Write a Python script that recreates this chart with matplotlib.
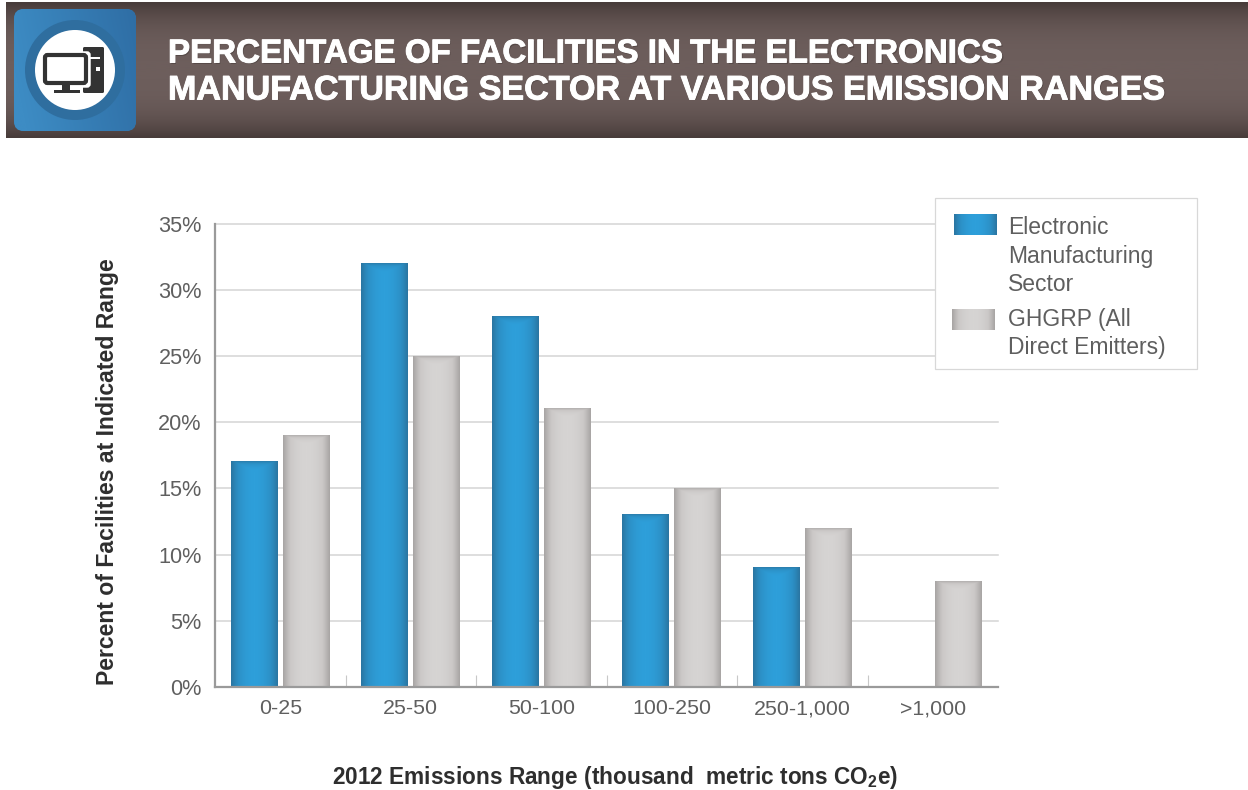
import numpy as np
import matplotlib
matplotlib.use("Agg")
import matplotlib.pyplot as plt
import matplotlib.patheffects as pe
from matplotlib.colors import LinearSegmentedColormap
from matplotlib.patches import Rectangle, Circle, FancyBboxPatch

plt.rcParams['font.family'] = ['Liberation Sans', 'DejaVu Sans']
plt.rcParams['mathtext.fontset'] = 'custom'
plt.rcParams['mathtext.bf'] = 'Liberation Sans:bold'

categories = ["0-25", "25-50", "50-100", "100-250", "250-1,000", ">1,000"]
electronics = [17, 32, 28, 13, 9, 0]
ghgrp = [19, 25, 21, 15, 12, 8]
yticks = [0, 5, 10, 15, 20, 25, 30, 35]
title_lines = ["PERCENTAGE OF FACILITIES IN THE ELECTRONICS",
               "MANUFACTURING SECTOR AT VARIOUS EMISSION RANGES"]
legend_labels = ["Electronic\nManufacturing\nSector", "GHGRP (All\nDirect Emitters)"]

TEXT = "#5f5f5f"
blue_cmap = LinearSegmentedColormap.from_list("blue", ["#2E9FDA", "#2C90C6", "#2A76A2"])
gray_cmap = LinearSegmentedColormap.from_list("gray", ["#D6D4D3", "#CBC8C7", "#A8A5A4"])


def gradient_fill(ax, x0, x1, y0, y1, cmap, zorder, top_px=0, height_px=1):
    # darker towards the sides, and towards the top edge when top_px is set
    rows = max(int(height_px), 2)
    side = np.abs(np.linspace(-1, 1, 60)) ** 1.9
    shade = np.tile(side, (rows, 1))
    if top_px > 0:
        top = np.clip(1 - np.arange(rows) / top_px, 0, 1)[:, None] ** 2
        shade = np.maximum(shade, top * 0.8)
    ax.imshow(shade, extent=[x0, x1, y0, y1], cmap=cmap, vmin=0, vmax=1, origin="upper",
              aspect="auto", zorder=zorder, interpolation="bilinear")


fig = plt.figure(figsize=(12.48, 7.9), dpi=100, facecolor="white")

# chart
ax = fig.add_axes([215 / 1248, (790 - 687) / 790, 783 / 1248, 463.4 / 790])
x = np.arange(len(categories))
width = 0.36
px_per_unit = 463.4 / 35
bars_a = ax.bar(x - 0.198, electronics, width, color="#2C93CA", zorder=3)
bars_b = ax.bar(x + 0.2, ghgrp, width, color="#CDCAC9", zorder=3)
for bar in bars_a:
    if bar.get_height() > 0:
        gradient_fill(ax, bar.get_x(), bar.get_x() + bar.get_width(), 0, bar.get_height(),
                      blue_cmap, 4, 10, bar.get_height() * px_per_unit)
for bar in bars_b:
    gradient_fill(ax, bar.get_x(), bar.get_x() + bar.get_width(), 0, bar.get_height(),
                  gray_cmap, 4, 10, bar.get_height() * px_per_unit)

ax.set_xlim(-0.5, 5.5)
ax.set_ylim(0, 35)
ax.set_yticks(yticks)
ax.set_yticklabels([f"{v}%" for v in yticks], fontsize=15.6, color=TEXT)
ax.set_xticks(x)
ax.set_xticklabels(categories, fontsize=15.4, color=TEXT)
ax.tick_params(axis="x", length=0, pad=9)
ax.tick_params(axis="y", length=0, pad=9.5)
ax.set_xticks(np.arange(0.5, 5), minor=True)
ax.tick_params(axis="x", which="minor", direction="in", length=9, width=0.8, color="#c8c8c8")
ax.grid(axis="y", color="#d4d4d4", linewidth=1.1, zorder=1, clip_on=False)
ax.set_axisbelow(True)
for side in ["top", "right"]:
    ax.spines[side].set_visible(False)
for side in ["left", "bottom"]:
    ax.spines[side].set_color("#9a9a9a")
    ax.spines[side].set_linewidth(1.6)
    ax.spines[side].set_zorder(5)
ax.set_xlabel(r"2012 Emissions Range (thousand  metric tons CO$\mathbf{_{2}}$e)",
              fontsize=16.3, fontweight="bold", color="#2e2e2e", labelpad=0)
ax.xaxis.set_label_coords(0.5115, -0.1655)
ax.set_ylabel("Percent of Facilities at Indicated Range", fontsize=16.6,
              fontweight="bold", color="#2e2e2e")
ax.yaxis.set_label_coords(-0.1225, 0.465)

# header + legend are placed in pixel coordinates
over = fig.add_axes([0, 0, 1, 1], facecolor="none")
over.axis("off")

band = np.abs(np.linspace(-1, 1, 80))[:, None] ** 3
header_cmap = LinearSegmentedColormap.from_list("hdr", ["#6D5E5C", "#483C3A"])
over.imshow(band, extent=[6, 1248, 138, 2], cmap=header_cmap, aspect="auto", vmin=0, vmax=1, zorder=1)

yy, xx = np.mgrid[-1:1:120j, -1:1:120j]
tile_cmap = LinearSegmentedColormap.from_list("tile", ["#3D8CC4", "#2F6EA5"])
tile = FancyBboxPatch((18, 13), 114, 114, boxstyle="round,pad=4,rounding_size=10",
                      facecolor="#3579B0", edgecolor="none", zorder=2)
over.add_patch(tile)
img = over.imshow((xx + 1 - yy * 0.2) / 2.2, extent=[14, 136, 131, 9], cmap=tile_cmap,
                  vmin=0, vmax=1, aspect="auto", zorder=2.1)
img.set_clip_path(tile)
over.add_patch(Circle((75, 70), 50, facecolor="#2F6E9F", edgecolor="none", zorder=3))
over.add_patch(Circle((75, 70), 40, facecolor="white", edgecolor="none", zorder=4))
# computer icon
dark = "#333333"
over.add_patch(FancyBboxPatch((83, 47), 21, 46, boxstyle="round,pad=0,rounding_size=1.5",
                              facecolor=dark, edgecolor="none", zorder=5))
over.add_patch(Rectangle((84, 57), 16, 1.6, facecolor="white", zorder=6))
over.add_patch(Rectangle((96, 67), 3.5, 3.5, facecolor="white", zorder=6))
over.add_patch(FancyBboxPatch((44, 53), 45, 33, boxstyle="round,pad=0,rounding_size=2",
                              facecolor="white", edgecolor="white", linewidth=2.5, zorder=6))
over.add_patch(FancyBboxPatch((45, 55), 41, 28, boxstyle="round,pad=0,rounding_size=2.5",
                              facecolor="white", edgecolor=dark, linewidth=3, zorder=7))
over.add_patch(Rectangle((62, 85), 8, 5, facecolor=dark, zorder=7))
over.add_patch(Rectangle((54, 90), 26, 3, facecolor=dark, zorder=7))

for line, ypos, size in zip(title_lines, [55, 92], [23.85, 24.55]):
    over.text(169, ypos, line, color="#2f2725", fontsize=size, fontweight="bold",
              va="center", ha="left", zorder=5, alpha=0.35)
    over.text(168, ypos - 1, line, color="white", fontsize=size, fontweight="bold",
              va="center", ha="left", zorder=6,
              path_effects=[pe.withStroke(linewidth=0.7, foreground="white")])

# legend box
over.add_patch(Rectangle((935, 198), 262, 171, facecolor="white", edgecolor="#d8d8d8",
                         linewidth=0.9, zorder=8))
gradient_fill(over, 954, 997, 235, 214, blue_cmap, 9.1)
gradient_fill(over, 952, 995, 330, 309, gray_cmap, 9.1)
over.text(1008, 256, legend_labels[0], fontsize=16.5, color=TEXT, va="center", ha="left",
          linespacing=1.29, zorder=10)
over.text(1008, 333.5, legend_labels[1], fontsize=16.5, color=TEXT, va="center", ha="left",
          linespacing=1.29, zorder=10)
over.set_xlim(0, 1248)
over.set_ylim(790, 0)

fig.savefig("out.png", dpi=100)
